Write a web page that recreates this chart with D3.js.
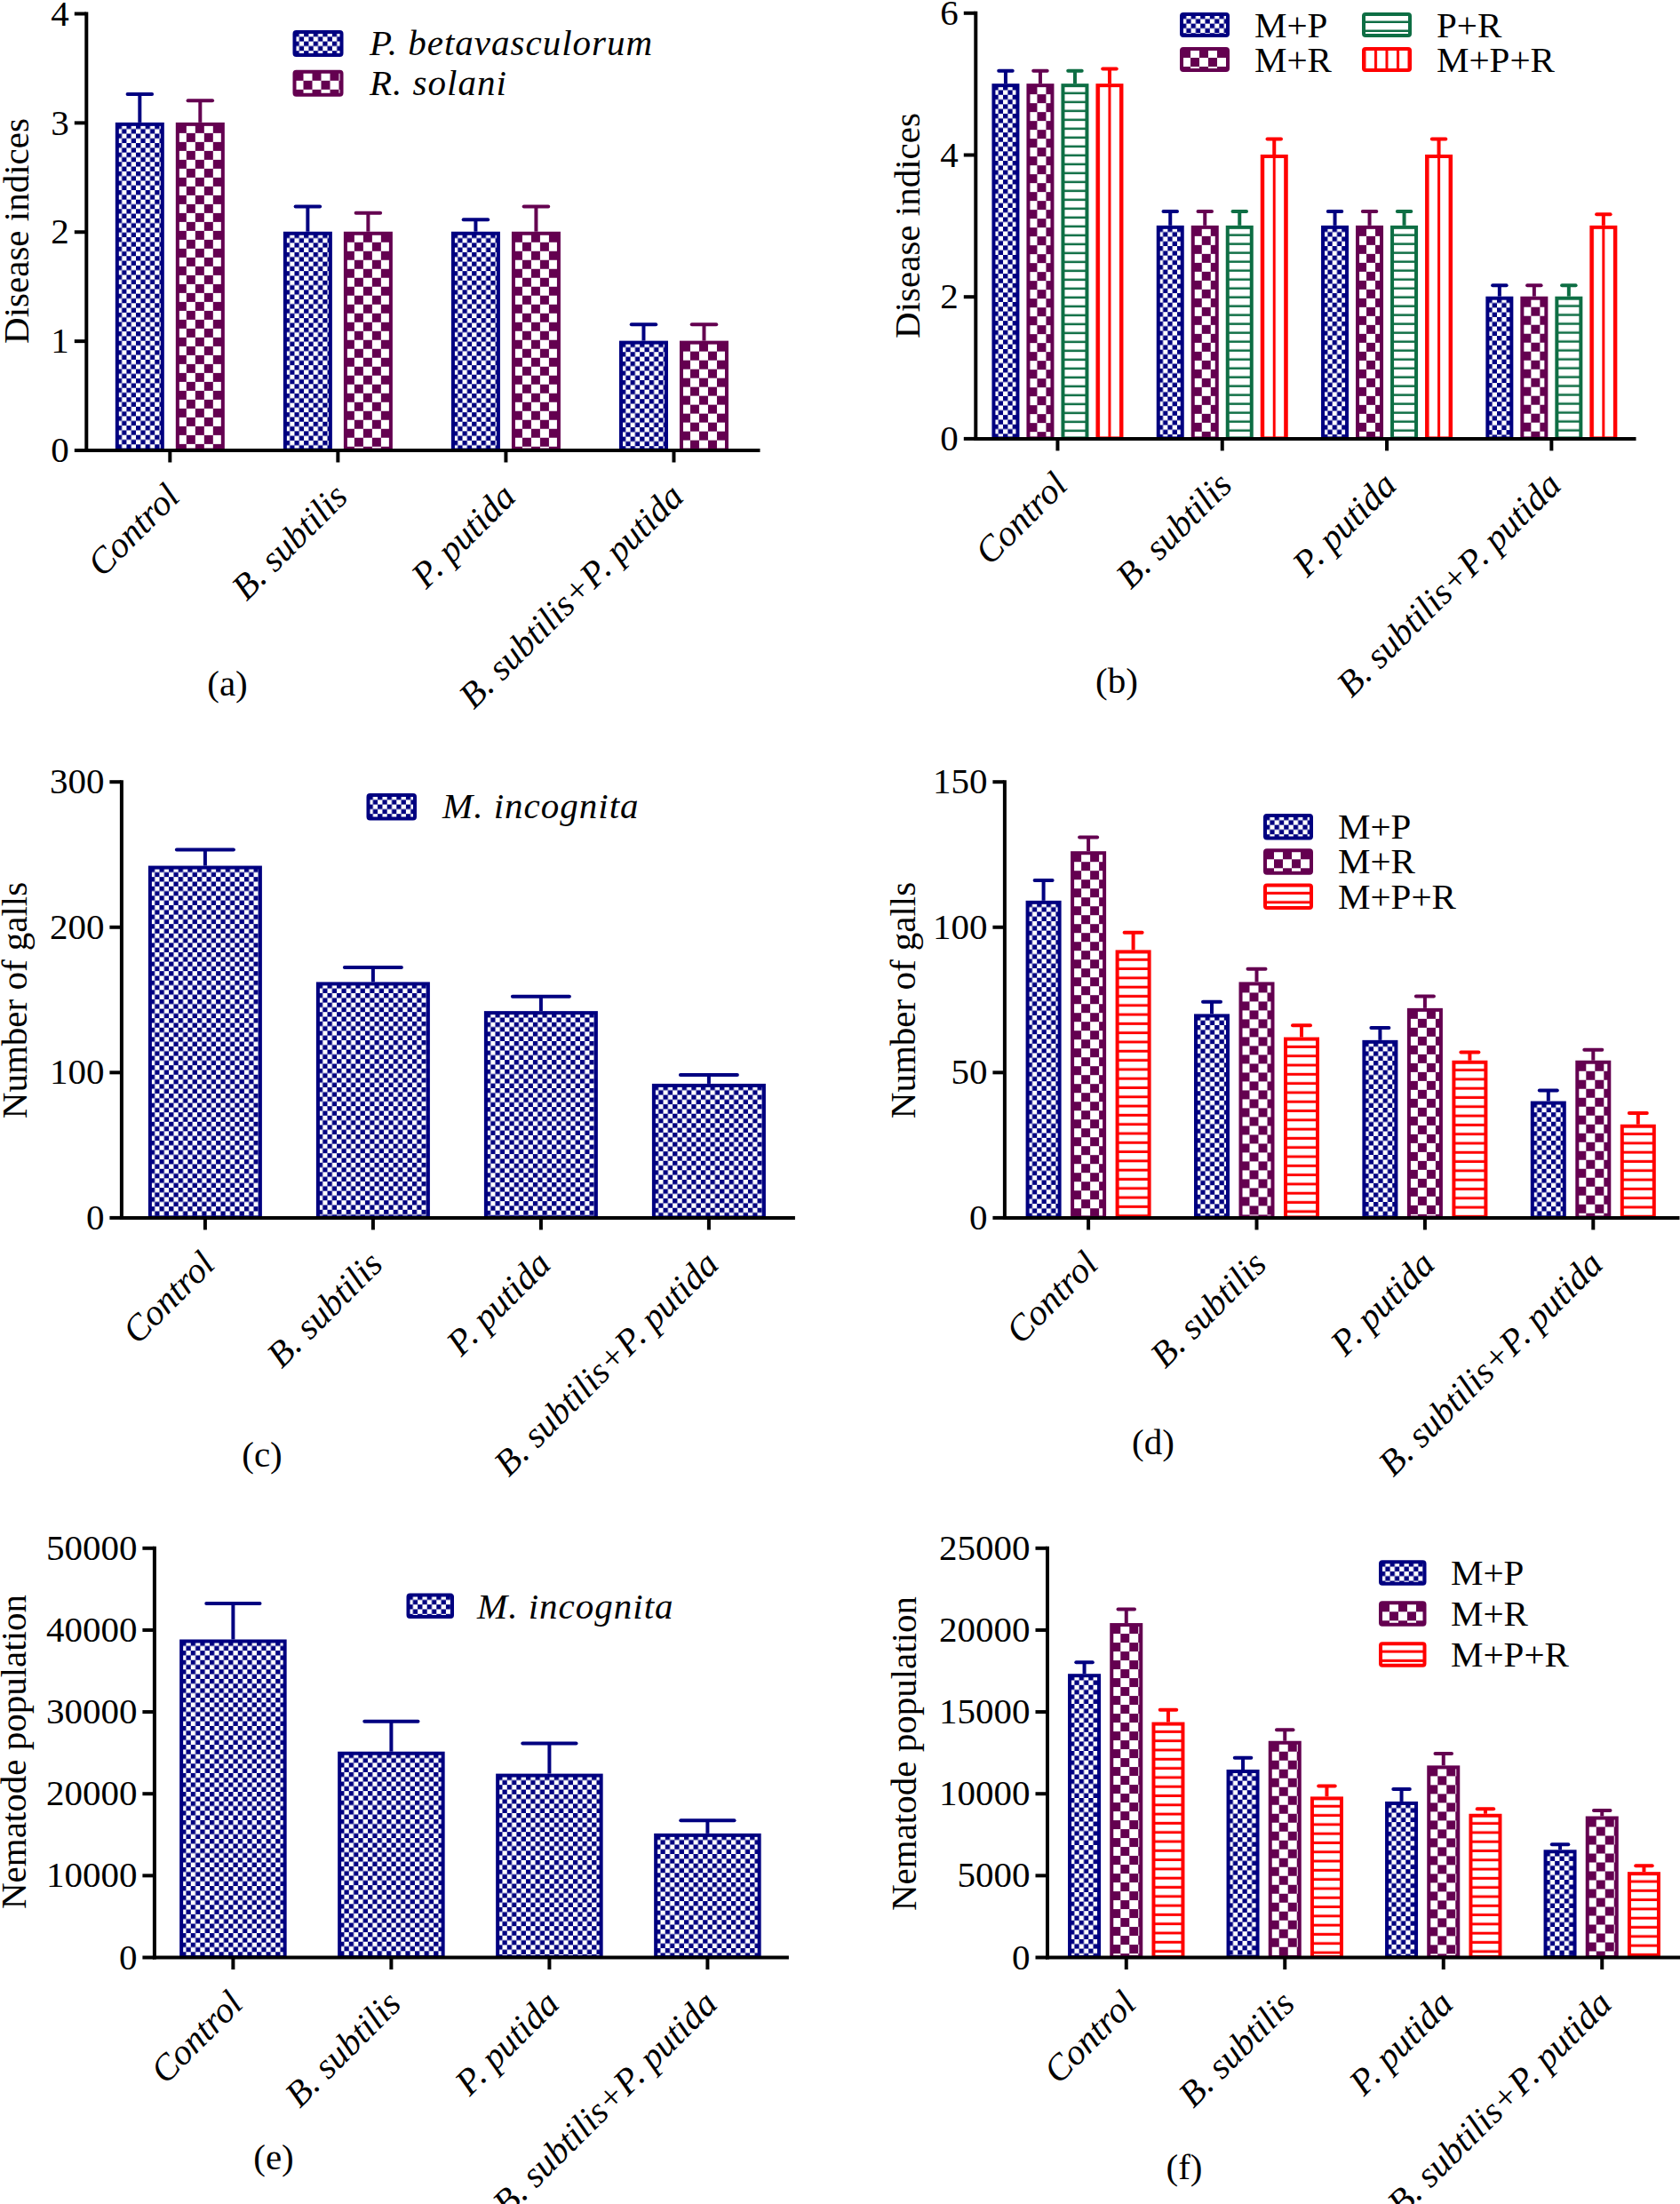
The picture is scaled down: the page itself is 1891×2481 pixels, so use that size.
<!DOCTYPE html>
<html>
<head>
<meta charset="utf-8">
<script src="https://d3js.org/d3.v7.min.js"></script>
<style>
  body { margin: 0; background: #fff; }
  svg text { font-family: "Liberation Serif", "Times New Roman", serif; fill: #000; }
  .axis path, .axis line { stroke: #000; stroke-width: 4px; }
  .axis text { font-size: 41px; font-family: "Liberation Serif", "Times New Roman", serif; }
</style>
</head>
<body>
<svg id="fig" width="1891" height="2481"></svg>
<script>
var categories = ["Control", "B. subtilis", "P. putida", "B. subtilis+P. putida"];

// (a) disease indices, single pathogens
var seriesA = ["P. betavasculorum", "R. solani"];
var meanA = [[3, 2, 2, 1], [3, 2, 2, 1]];
var sdA = [[0.26, 0.23, 0.11, 0.15], [0.2, 0.17, 0.23, 0.15]];
var ticksA = [0, 1, 2, 3, 4];

// (b) disease indices, combined infections
var seriesB = ["M+P", "M+R", "P+R", "M+P+R"];
var meanB = [[5, 3, 3, 2], [5, 3, 3, 2], [5, 3, 3, 2], [5, 4, 4, 3]];
var sdB = [[0.18, 0.2, 0.2, 0.155], [0.18, 0.2, 0.2, 0.155], [0.18, 0.2, 0.2, 0.155], [0.21, 0.22, 0.22, 0.157]];
var ticksB = [0, 2, 4, 6];

// (c) galls, nematode alone
var seriesC = ["M. incognita"];
var meanC = [[242, 162, 142, 92]];
var sdC = [[11, 10, 10, 6]];
var ticksC = [0, 100, 200, 300];

// (d) galls, combined
var seriesD = ["M+P", "M+R", "M+P+R"];
var meanD = [[109, 70, 61, 40], [126, 81, 72, 54], [92, 62, 54, 32]];
var sdD = [[7, 4.2, 4.2, 3.7], [4.8, 4.5, 4.1, 3.7], [6, 4.1, 2.8, 3.9]];
var ticksD = [0, 50, 100, 150];

// (e) nematode population alone
var seriesE = ["M. incognita"];
var meanE = [[38800, 25100, 22400, 15100]];
var sdE = [[4400, 3700, 3700, 1600]];
var ticksE = [0, 10000, 20000, 30000, 40000, 50000];

// (f) nematode population, combined
var seriesF = ["M+P", "M+R", "M+P+R"];
var meanF = [[17300, 11450, 9500, 6550], [20400, 13200, 11700, 8600], [14350, 9800, 8750, 5200]];
var sdF = [[700, 720, 760, 330], [850, 680, 730, 350], [750, 650, 300, 380]];
var ticksF = [0, 5000, 10000, 15000, 20000, 25000];

var navy = "#000080", maroon = "#640050", green = "#0e6e44", red = "#ff0000";
var BLUE = {style: "fine", color: navy}, MAR = {style: "check", color: maroon},
    GRN = {style: "hline", color: green, gap: 10, th: 2.5}, REDV = {style: "vline", color: red},
    REDH = {style: "hline", color: red, gap: 10.3, th: 3};

var panels = [
  {series: seriesA, mean: meanA, sd: sdA, ticks: ticksA, ymax: 4, title: "Disease indices", letter: "(a)",
   left: 96.8, right: 853, y0: 506.5, yTop: 15, barW: 55, pitch: 68, titleX: 32, titleY: 260,
   letterX: 256, letterY: 783, styles: [BLUE, MAR], italic: true,
   leg: {x: 329.5, y: 34, w: 57, h: 30, dy: 44.8, tx: 86.5, rows: 2, dx: 0, ls: 1}},
  {series: seriesB, mean: meanB, sd: sdB, ticks: ticksB, ymax: 6, title: "Disease indices", letter: "(b)",
   left: 1097.8, right: 1839, y0: 493.4, yTop: 14.3, barW: 31, pitch: 39, titleX: 1035, titleY: 254,
   letterX: 1257, letterY: 780, styles: [BLUE, MAR, GRN, REDV], italic: false,
   leg: {x: 1328, y: 14, w: 56, h: 28, dy: 39, tx: 84, rows: 2, dx: 205, ls: 0}},
  {series: seriesC, mean: meanC, sd: sdC, ticks: ticksC, ymax: 300, title: "Number of galls", letter: "(c)",
   left: 136.4, right: 892.4, y0: 1370.4, yTop: 879.7, barW: 128, pitch: 128, titleX: 30, titleY: 1126,
   letterX: 295, letterY: 1651, styles: [BLUE], italic: true,
   leg: {x: 412.5, y: 893, w: 56.5, h: 30.5, dy: 40, tx: 85.5, rows: 1, dx: 0, ls: 1}},
  {series: seriesD, mean: meanD, sd: sdD, ticks: ticksD, ymax: 150, title: "Number of galls", letter: "(d)",
   left: 1130.4, right: 1888, y0: 1370.4, yTop: 879.7, barW: 40, pitch: 50.5, titleX: 1030, titleY: 1126,
   letterX: 1298, letterY: 1637, styles: [BLUE, MAR, REDH], italic: false,
   leg: {x: 1422, y: 916, w: 56, h: 29.5, dy: 39.3, tx: 84, rows: 3, dx: 0, ls: 0}},
  {series: seriesE, mean: meanE, sd: sdE, ticks: ticksE, ymax: 50000, title: "Nematode population", letter: "(e)",
   left: 173.4, right: 885.4, y0: 2203, yTop: 1742.3, barW: 120.5, pitch: 120.5, titleX: 29, titleY: 1972,
   letterX: 308, letterY: 2442, styles: [BLUE], italic: true,
   leg: {x: 457.5, y: 1793.6, w: 53.5, h: 28.4, dy: 40, tx: 79.5, rows: 1, dx: 0, ls: 1}},
  {series: seriesF, mean: meanF, sd: sdF, ticks: ticksF, ymax: 25000, title: "Nematode population", letter: "(f)",
   left: 1178.5, right: 1892.5, y0: 2203, yTop: 1742.3, barW: 37, pitch: 47.2, titleX: 1031, titleY: 1974,
   letterX: 1333, letterY: 2453, styles: [BLUE, MAR, REDH], italic: false,
   leg: {x: 1552, y: 1756.3, w: 53.5, h: 28.4, dy: 46, tx: 81, rows: 3, dx: 0, ls: 0}}
];

var svg = d3.select("#fig");
var defs = svg.append("defs");
var pid = 0;

// one pattern per filled shape so the texture lines up with the shape itself
function makeFill(st, x, y, w) {
  var id = "pat" + (pid++);
  var p = defs.append("pattern").attr("id", id).attr("patternUnits", "userSpaceOnUse");
  if (st.style === "fine" || st.style === "check") {
    var c = st.style === "fine" ? 5.3 : 10;
    p.attr("x", x).attr("y", y).attr("width", 2 * c).attr("height", 2 * c);
    p.append("rect").attr("width", 2 * c).attr("height", 2 * c).attr("fill", "#fff");
    p.append("rect").attr("width", c).attr("height", c).attr("fill", st.color);
    p.append("rect").attr("x", c).attr("y", c).attr("width", c).attr("height", c).attr("fill", st.color);
  } else if (st.style === "hline") {
    p.attr("x", x).attr("y", y).attr("width", 40).attr("height", st.gap);
    p.append("rect").attr("width", 40).attr("height", st.gap).attr("fill", "#fff");
    p.append("rect").attr("y", st.gap - st.th).attr("width", 40).attr("height", st.th).attr("fill", st.color);
  } else {
    var s = 12.5;
    p.attr("x", x + w / 2 - 1.5).attr("y", y).attr("width", s).attr("height", 40);
    p.append("rect").attr("width", s).attr("height", 40).attr("fill", "#fff");
    p.append("rect").attr("width", 3).attr("height", 40).attr("fill", st.color);
  }
  return "url(#" + id + ")";
}

panels.forEach(function(P) {
  var g = svg.append("g");
  var y = d3.scaleLinear().domain([0, P.ymax]).range([P.y0, P.yTop]);
  var x0 = d3.scaleBand().domain(categories).range([P.left, P.right]);
  var n = P.series.length;
  var groupW = n * P.pitch - P.pitch + P.barW;
  var x1 = d3.scaleBand().domain(d3.range(n)).range([-groupW / 2, groupW / 2])
      .paddingInner(n > 1 ? 1 - P.barW / P.pitch : 0);
  var bw = x1.bandwidth();

  var rows = [];
  P.series.forEach(function(s, si) {
    categories.forEach(function(c, ci) {
      rows.push({si: si, cat: c, v: P.mean[si][ci], e: P.sd[si][ci]});
    });
  });
  function bx(d) { return x0(d.cat) + x0.bandwidth() / 2 + x1(d.si); }

  g.selectAll("rect.bar").data(rows).join("rect")
    .attr("class", "bar")
    .attr("x", function(d) { return bx(d) + 2; })
    .attr("y", function(d) { return y(d.v) + 2; })
    .attr("width", bw - 4)
    .attr("height", function(d) { return P.y0 - y(d.v) - 2; })
    .attr("fill", function(d) { return makeFill(P.styles[d.si], bx(d) + 2, y(d.v) + 2, bw - 4); })
    .attr("stroke", function(d) { return P.styles[d.si].color; })
    .attr("stroke-width", 4);

  // mean + SD whiskers
  var eb = g.selectAll("g.err").data(rows).join("g").attr("class", "err")
    .attr("stroke", function(d) { return P.styles[d.si].color; })
    .attr("stroke-width", 4);
  eb.append("line")
    .attr("x1", function(d) { return bx(d) + bw / 2; })
    .attr("x2", function(d) { return bx(d) + bw / 2; })
    .attr("y1", function(d) { return y(d.v); })
    .attr("y2", function(d) { return y(d.v + d.e); });
  eb.append("line")
    .attr("stroke-linecap", "round")
    .attr("x1", function(d) { return bx(d) + bw / 4; })
    .attr("x2", function(d) { return bx(d) + bw * 3 / 4; })
    .attr("y1", function(d) { return y(d.v + d.e); })
    .attr("y2", function(d) { return y(d.v + d.e); });

  // axes
  g.append("g").attr("class", "axis")
    .attr("transform", "translate(" + P.left + ",0)")
    .call(d3.axisLeft(y).tickValues(P.ticks).tickSize(13).tickSizeOuter(0).tickPadding(6)
      .tickFormat(d3.format("d")));
  g.append("g").attr("class", "axis")
    .attr("transform", "translate(0," + P.y0 + ")")
    .call(d3.axisBottom(x0).tickSize(14).tickSizeOuter(0).tickFormat(""));
  g.selectAll(".axis .domain").attr("stroke-linecap", "square");

  g.selectAll("text.cat").data(categories).join("text")
    .attr("class", "cat")
    .attr("transform", function(c) {
      return "translate(" + (x0(c) + x0.bandwidth() / 2 + 13) + "," + (P.y0 + 55) + ") rotate(-45)";
    })
    .attr("text-anchor", "end")
    .style("font-size", "41px")
    .style("font-style", "italic")
    .text(function(c) { return c; });

  g.append("text")
    .attr("transform", "translate(" + P.titleX + "," + P.titleY + ") rotate(-90)")
    .attr("text-anchor", "middle")
    .style("font-size", "41px")
    .text(P.title);

  g.append("text")
    .attr("x", P.letterX).attr("y", P.letterY)
    .attr("text-anchor", "middle")
    .style("font-size", "41px")
    .text(P.letter);

  // legend
  var L = P.leg;
  var li = g.selectAll("g.leg").data(P.series).join("g").attr("class", "leg")
    .attr("transform", function(s, i) {
      return "translate(" + (L.x + Math.floor(i / L.rows) * L.dx) + "," + (L.y + (i % L.rows) * L.dy) + ")";
    });
  li.append("rect")
    .attr("x", 2).attr("y", 2).attr("rx", 2)
    .attr("width", L.w - 4).attr("height", L.h - 4)
    .attr("fill", function(s, i) { return makeFill(P.styles[i], 2, 2, L.w - 4); })
    .attr("stroke", function(s, i) { return P.styles[i].color; })
    .attr("stroke-width", 4);
  li.append("text")
    .attr("x", L.tx).attr("y", 28)
    .style("font-size", "41px")
    .style("font-style", P.italic ? "italic" : "normal")
    .style("letter-spacing", L.ls + "px")
    .text(function(s) { return s; });
});
</script>
</body>
</html>
